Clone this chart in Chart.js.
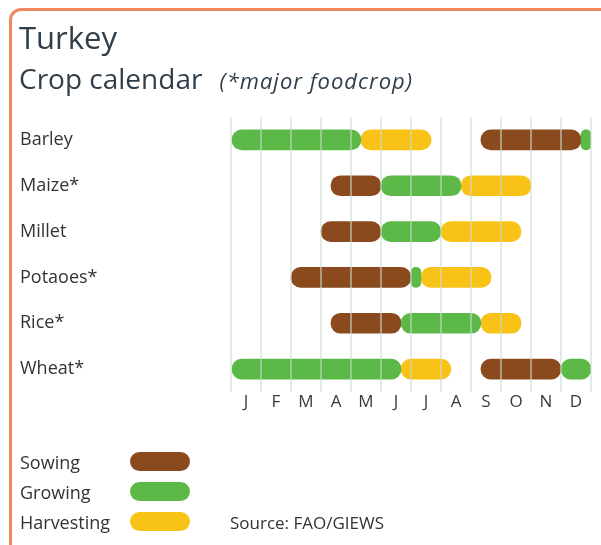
<!DOCTYPE html>
<html>
<head>
<meta charset="utf-8">
<script src="https://cdn.jsdelivr.net/npm/chart.js@4.4.0/dist/chart.umd.min.js"></script>
<style>
  html, body { margin: 0; padding: 0; background: #fff; }
  body { width: 601px; height: 545px; position: relative; overflow: hidden; font-family: "Open Sans", sans-serif; }
  #marco { position: absolute; left: 9px; top: 8px; width: 640px; height: 600px;
           border-top: 3px solid #ee8a5c; border-left: 3px solid #ee8a5c; border-top-left-radius: 12px; }
  #grafico { position: absolute; left: 0; top: 0; }
  .txt { position: absolute; white-space: nowrap; color: #333; }
  #titulo { left: 19px; top: 16px; font-size: 31px; color: #2f3e4a; }
  #subtitulo { left: 19px; top: 59px; font-size: 28px; color: #2f3e4a; }
  #subtitulo i { font-size: 22px; margin-left: 17px; letter-spacing: 1px; }
  .ley { left: 20px; font-size: 18px; }
  .pastilla { position: absolute; left: 130px; width: 60px; height: 19px; border-radius: 10px; }
</style>
</head>
<body>
<div id="marco"></div>
<canvas id="grafico" width="601" height="545"></canvas>
<div class="txt" id="titulo">Turkey</div>
<div class="txt" id="subtitulo">Crop calendar<i>(*major foodcrop)</i></div>
<div class="txt ley" style="top:450px">Sowing</div>
<div class="txt ley" style="top:480px">Growing</div>
<div class="txt ley" style="top:510px">Harvesting</div>
<div class="pastilla" style="top:452px;background:#8a4a1d"></div>
<div class="pastilla" style="top:482px;background:#5cb847"></div>
<div class="pastilla" style="top:512px;background:#f8c216"></div>
<div class="txt" style="left:230px;top:511px;font-size:17px">Source: FAO/GIEWS</div>
<script>
// Cultivos y meses
const cultivos = ['Barley', 'Maize*', 'Millet', 'Potaoes*', 'Rice*', 'Wheat*'];
const meses = ['J', 'F', 'M', 'A', 'M', 'J', 'J', 'A', 'S', 'O', 'N', 'D'];

// Periodos en meses (0 = inicio de enero, 12 = fin de diciembre)
const siembra = [[8.33, 11.67], [3.33, 5], [3, 5], [2, 6], [3.33, 5.67], [8.33, 11]];
const crecimiento = [[0, 4.33], [5, 7.67], [5, 7], [6, 6.33], [5.67, 8.33], [0, 5.67]];
const crecimientoFinAnio = [[11.67, 12], null, null, null, null, [11, 12]];
const cosecha = [[4.33, 6.67], [7.67, 10], [7, 9.67], [6.33, 8.67], [8.33, 9.67], [5.67, 7.33]];

const MARRON = '#8a4a1d';
const VERDE = '#5cb847';
const AMARILLO = '#f8c216';

function serie(nombre, datos, color) {
    return {
        label: nombre,
        data: datos,
        backgroundColor: color,
        borderSkipped: false,
        borderRadius: 10,
        barThickness: 20,
        grouped: false
    };
}

new Chart(document.getElementById('grafico'), {
    type: 'bar',
    data: {
        labels: cultivos,
        datasets: [
            serie('Growing', crecimiento, VERDE),
            serie('Harvesting', cosecha, AMARILLO),
            serie('Growing', crecimientoFinAnio, VERDE),
            serie('Sowing', siembra, MARRON)
        ]
    },
    options: {
        indexAxis: 'y',
        responsive: false,
        animation: false,
        layout: { padding: { left: 20, top: 117, right: 10, bottom: 133 } },
        plugins: { legend: { display: false }, tooltip: { enabled: false } },
        scales: {
            x: {
                type: 'linear',
                min: 0,
                max: 12,
                ticks: { display: false, stepSize: 1 },
                grid: { color: 'rgba(200, 222, 205, 0.55)', lineWidth: 2, drawTicks: false, z: 1 },
                border: { display: false },
                afterFit: (eje) => { eje.height = 0; }
            },
            meses: {
                type: 'category',
                position: 'bottom',
                labels: meses,
                offset: true,
                grid: { display: false, drawTicks: false },
                border: { display: false },
                ticks: { color: '#3a3a3a', font: { family: 'Open Sans', size: 17 }, padding: 0 },
                afterFit: (eje) => { eje.height = 20; }
            },
            y: {
                grid: { display: false, drawTicks: false },
                border: { display: false },
                ticks: { crossAlign: 'far', color: '#333', font: { family: 'Open Sans', size: 18 }, padding: 0 },
                afterFit: (eje) => { eje.width = 211; }
            }
        }
    }
});
</script>
</body>
</html>
